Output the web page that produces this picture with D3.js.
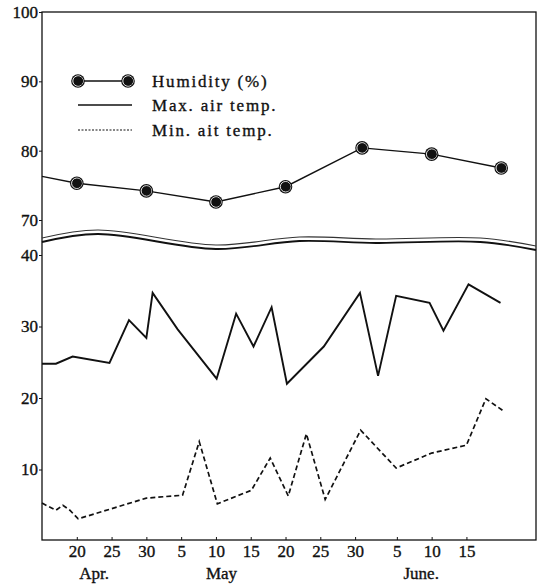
<!DOCTYPE html>
<html>
<head>
<meta charset="utf-8">
<script src="https://cdn.jsdelivr.net/npm/d3@7"></script>
<style>
  body { margin: 0; background: #fff; }
  svg text { font-family: "Liberation Serif", "DejaVu Serif", serif; fill: #111; stroke: #111; stroke-width: 0.35px; }
</style>
</head>
<body>
<div id="wrapper"></div>
<script>
// data (x = day counted from Apr. 1, so May 5 = 35, June 5 = 66)
const humidityDays = [15, 20, 30, 40, 50, 61, 71, 81];
const humidityValues = [76.3, 75.3, 74.2, 72.6, 74.8, 80.4, 79.5, 77.5];

const maxTempDays = [15, 17, 19.4, 24.7, 27.5, 30, 30.9, 34.5, 40.1, 42.9, 45.4, 48, 50.2, 55.5, 60.7, 63.3, 65.9, 70.7, 72.7, 76.3, 80.9];
const maxTempValues = [24.8, 24.8, 25.8, 24.9, 30.9, 28.4, 34.7, 29.6, 22.7, 31.8, 27.2, 32.7, 22.0, 27.2, 34.7, 23.1, 34.3, 33.3, 29.4, 35.9, 33.3];

const minTempDays = [15, 17, 18, 19, 20.2, 30, 35.2, 37.6, 40.2, 45.1, 47.8, 50.4, 53, 55.7, 60.8, 65.9, 71, 76, 78.8, 81.3];
const minTempValues = [5.3, 4.3, 5.0, 4.3, 3.1, 6.0, 6.4, 13.9, 5.2, 7.1, 11.6, 6.3, 15.0, 5.8, 15.5, 10.2, 12.3, 13.4, 19.9, 18.2];

const xTickDays = [20, 25, 30, 35, 40, 45, 50, 55, 60, 66, 71, 76];
const xTickLabels = ["20", "25", "30", "5", "10", "15", "20", "25", "30", "5", "10", "15"];
const monthLabels = ["Apr.", "May", "June."];
const monthDays = [22.5, 40.8, 69.5];

const yTicksUpper = [70, 80, 90, 100];
const yTicksLower = [10, 20, 30, 40];

const legendLabels = ["Humidity (%)", "Max. air temp.", "Min. ait temp."];

function drawChart() {
  // 1. dimensions
  let dimensions = {
    width: 548,
    height: 586,
    margin: { top: 12, right: 12, bottom: 46, left: 42 },
  };
  dimensions.boundedWidth = dimensions.width - dimensions.margin.left - dimensions.margin.right;
  dimensions.boundedHeight = dimensions.height - dimensions.margin.top - dimensions.margin.bottom;

  const wrapper = d3.select("#wrapper").append("svg")
    .attr("width", dimensions.width)
    .attr("height", dimensions.height);

  const bounds = wrapper.append("g")
    .attr("transform", `translate(${dimensions.margin.left},${dimensions.margin.top})`);

  // 2. scales (broken y axis: humidity on top, temperature below)
  const xScale = d3.scaleLinear()
    .domain([15, 86])
    .range([0, dimensions.boundedWidth]);

  const yUpper = d3.scaleLinear()
    .domain([70, 100])
    .range([208, 0]);

  const yLower = d3.scaleLinear()
    .domain([0, 40])
    .range([dimensions.boundedHeight + 1, 243]);

  // 3. frame
  bounds.append("rect")
    .attr("width", dimensions.boundedWidth)
    .attr("height", dimensions.boundedHeight)
    .attr("fill", "none")
    .attr("stroke", "#111")
    .attr("stroke-width", 1.3);

  // axis break: double wavy line
  const wave = [[15, 0], [23, -8], [40, 7], [52, -1], [63, 1], [78, 0], [86, 8]];
  const waveLine = d3.line()
    .x((d) => xScale(d[0]))
    .y((d) => 226 + d[1])
    .curve(d3.curveCatmullRom);
  bounds.append("path").attr("d", waveLine(wave))
    .attr("fill", "none").attr("stroke", "#333").attr("stroke-width", 1.1);
  bounds.append("path").attr("d", waveLine(wave)).attr("transform", "translate(0,4)")
    .attr("fill", "none").attr("stroke", "#111").attr("stroke-width", 1.8);

  // 4. axes
  const styleAxis = (g) => {
    g.select(".domain").remove();
    g.selectAll("text").style("font-size", "17px");
    g.selectAll("line").attr("stroke", "#111");
  };

  bounds.append("g")
    .call(d3.axisLeft(yUpper).tickValues(yTicksUpper).tickSize(3).tickPadding(1))
    .call(styleAxis);
  bounds.append("g")
    .call(d3.axisLeft(yLower).tickValues(yTicksLower).tickSize(3).tickPadding(1))
    .call(styleAxis);

  bounds.append("g")
    .attr("transform", `translate(0,${dimensions.boundedHeight})`)
    .call(d3.axisBottom(xScale).tickValues(xTickDays)
      .tickFormat((d, i) => xTickLabels[i])
      .tickSizeInner(-3).tickSizeOuter(0).tickPadding(5))
    .call(styleAxis);

  bounds.append("g").selectAll("text")
    .data(monthLabels)
    .join("text")
    .attr("x", (d, i) => xScale(monthDays[i]))
    .attr("y", dimensions.boundedHeight + 39)
    .attr("text-anchor", "middle")
    .style("font-size", "17px")
    .text((d) => d);

  // 5. lines
  const humidity = humidityDays.map((d, i) => ({ day: d, value: humidityValues[i] }));
  const maxTemp = maxTempDays.map((d, i) => ({ day: d, value: maxTempValues[i] }));
  const minTemp = minTempDays.map((d, i) => ({ day: d, value: minTempValues[i] }));

  const humidityLine = d3.line().x((d) => xScale(d.day)).y((d) => yUpper(d.value));
  const tempLine = d3.line().x((d) => xScale(d.day)).y((d) => yLower(d.value));

  bounds.append("path").datum(humidity)
    .attr("d", humidityLine)
    .attr("fill", "none").attr("stroke", "#111").attr("stroke-width", 1.4);

  bounds.append("path").datum(maxTemp)
    .attr("d", tempLine)
    .attr("fill", "none").attr("stroke", "#111").attr("stroke-width", 1.9)
    .attr("stroke-linejoin", "miter");

  bounds.append("path").datum(minTemp)
    .attr("d", tempLine)
    .attr("fill", "none").attr("stroke", "#111").attr("stroke-width", 1.7)
    .attr("stroke-dasharray", "5,3");

  // humidity markers (the first point only carries the line in from the edge)
  const drawBall = (sel) => {
    sel.append("circle").attr("r", 6.8).attr("fill", "#111");
    sel.append("circle").attr("r", 5.2).attr("fill", "none")
      .attr("stroke", "#fff").attr("stroke-width", 0.9);
    sel.append("circle").attr("r", 4.5).attr("cx", 0.6).attr("fill", "#111");
  };

  bounds.append("g").selectAll("g")
    .data(humidity.filter((d) => d.day > xScale.domain()[0]))
    .join("g")
    .attr("transform", (d) => `translate(${xScale(d.day)},${yUpper(d.value)})`)
    .call(drawBall);

  // 6. legend
  const legend = wrapper.append("g").attr("transform", "translate(78,0)");
  const rowY = [81, 105, 130];

  legend.append("line").attr("x1", 0).attr("x2", 50).attr("y1", rowY[0]).attr("y2", rowY[0])
    .attr("stroke", "#111").attr("stroke-width", 1.4);
  legend.selectAll(".ball").data([0, 50]).join("g").attr("class", "ball")
    .attr("transform", (d) => `translate(${d},${rowY[0]})`)
    .call(drawBall);
  legend.append("line").attr("x1", 0).attr("x2", 54).attr("y1", rowY[1]).attr("y2", rowY[1])
    .attr("stroke", "#111").attr("stroke-width", 1.3);
  legend.append("line").attr("x1", 0).attr("x2", 54).attr("y1", rowY[2]).attr("y2", rowY[2])
    .attr("stroke", "#111").attr("stroke-width", 1.2).attr("stroke-dasharray", "2,1.5");

  legend.selectAll(".label").data(legendLabels).join("text").attr("class", "label")
    .attr("x", 74)
    .attr("y", (d, i) => rowY[i] + 6)
    .style("font-size", "17px")
    .style("letter-spacing", "1.8px")
    .text((d) => d);
}
drawChart();
</script>
</body>
</html>
